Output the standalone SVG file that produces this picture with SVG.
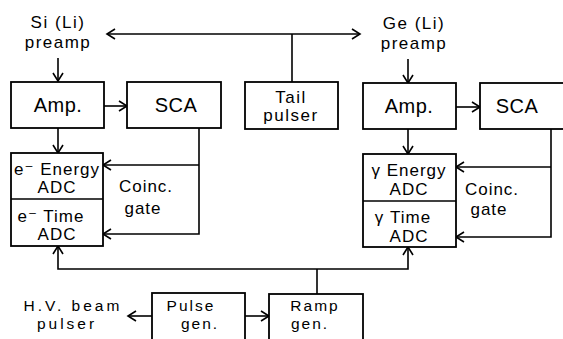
<svg xmlns="http://www.w3.org/2000/svg" width="563" height="339" viewBox="0 0 563 339">
<defs>
<style>
.box{fill:#fff;stroke:#000;stroke-width:1.8}
.ln{fill:none;stroke:#000;stroke-width:1.6}
.arr{marker-end:url(#ah)}
text{font-family:"Liberation Sans","DejaVu Sans",sans-serif;fill:#000;text-anchor:middle}
.big{font-size:20px;letter-spacing:0.5px}
.med{font-size:17px;letter-spacing:1px}
.lbl{font-size:17px;letter-spacing:1.5px}
.sm{font-size:15.5px;letter-spacing:2px}
.wide{letter-spacing:3px}
</style>
<marker id="ah" markerUnits="userSpaceOnUse" markerWidth="12" markerHeight="12" refX="9" refY="5" orient="auto-start-reverse" overflow="visible">
<path d="M1,0 L9,5 L1,10" fill="none" stroke="#000" stroke-width="1.6"/>
</marker>
</defs>
<rect width="563" height="339" fill="#fff"/>

<g id="connectors">
<path class="ln arr" d="M58,58 V81"/>
<path class="ln" d="M107,34 H360" marker-start="url(#ah)" marker-end="url(#ah)"/>
<path class="ln" d="M292,34 V82"/>
<path class="ln arr" d="M408,59 V83"/>
<path class="ln arr" d="M104,106 H127"/>
<path class="ln arr" d="M456,107 H480"/>
<path class="ln arr" d="M58,128 V153"/>
<path class="ln arr" d="M408,129 V154"/>
<path class="ln arr" d="M199,128 V234 H103"/>
<path class="ln arr" d="M199,165 H103"/>
<path class="ln arr" d="M551,129 V237 H456"/>
<path class="ln arr" d="M551,167 H456"/>
<path class="ln" d="M58,246 V269 H408 V247" marker-start="url(#ah)" marker-end="url(#ah)"/>
<path class="ln" d="M317,269 V294"/>
<path class="ln arr" d="M245,316 H269"/>
<path class="ln arr" d="M152,316 H128"/>
</g>

<g id="si-preamp">
<text class="lbl" x="58" y="28">Si (Li)</text>
<text class="lbl" x="58" y="48">preamp</text>
</g>
<g id="ge-preamp">
<text class="lbl" x="414" y="29">Ge (Li)</text>
<text class="lbl" x="414" y="49">preamp</text>
</g>

<g id="amp-left">
<rect class="box" x="11" y="82" width="93" height="46"/>
<text class="big" x="58" y="112">Amp.</text>
</g>
<g id="sca-left">
<rect class="box" x="127" y="82" width="94" height="46"/>
<text class="big" x="176" y="112">SCA</text>
</g>
<g id="tail-pulser">
<rect class="box" x="245" y="82" width="93" height="47"/>
<text class="lbl" x="291" y="103">Tail</text>
<text class="lbl" x="291" y="121">pulser</text>
</g>
<g id="amp-right">
<rect class="box" x="363" y="83" width="93" height="46"/>
<text class="big" x="409" y="113">Amp.</text>
</g>
<g id="sca-right">
<rect class="box" x="480" y="83" width="95" height="46"/>
<text class="big" x="517" y="113">SCA</text>
</g>

<g id="adc-left">
<rect class="box" x="11" y="153" width="92" height="93"/>
<path class="ln" d="M11,199 H103"/>
<text class="med" x="57" y="175">e⁻ Energy</text>
<text class="med" x="57" y="193">ADC</text>
<text class="med" x="51" y="222">e⁻ Time</text>
<text class="med" x="57" y="240">ADC</text>
</g>
<g id="gate-left">
<text class="med" x="146" y="192">Coinc.</text>
<text class="med" x="143" y="214">gate</text>
</g>

<g id="adc-right">
<rect class="box" x="363" y="154" width="93" height="93"/>
<path class="ln" d="M363,201 H456"/>
<text class="med" x="409" y="176">γ Energy</text>
<text class="med" x="409" y="195">ADC</text>
<text class="med" x="403" y="223">γ Time</text>
<text class="med" x="409" y="242">ADC</text>
</g>
<g id="gate-right">
<text class="med" x="492" y="195">Coinc.</text>
<text class="med" x="489" y="215">gate</text>
</g>

<g id="hv-pulser">
<text class="sm wide" x="73" y="311">H.V. beam</text>
<text class="sm wide" x="67" y="329">pulser</text>
</g>
<g id="pulse-gen">
<rect class="box" x="152" y="293" width="93" height="60"/>
<text class="sm" x="191" y="311">Pulse</text>
<text class="sm" x="200" y="329">gen.</text>
</g>
<g id="ramp-gen">
<rect class="box" x="269" y="294" width="94" height="60"/>
<text class="sm" x="315" y="311">Ramp</text>
<text class="sm" x="310" y="329">gen.</text>
</g>
</svg>
